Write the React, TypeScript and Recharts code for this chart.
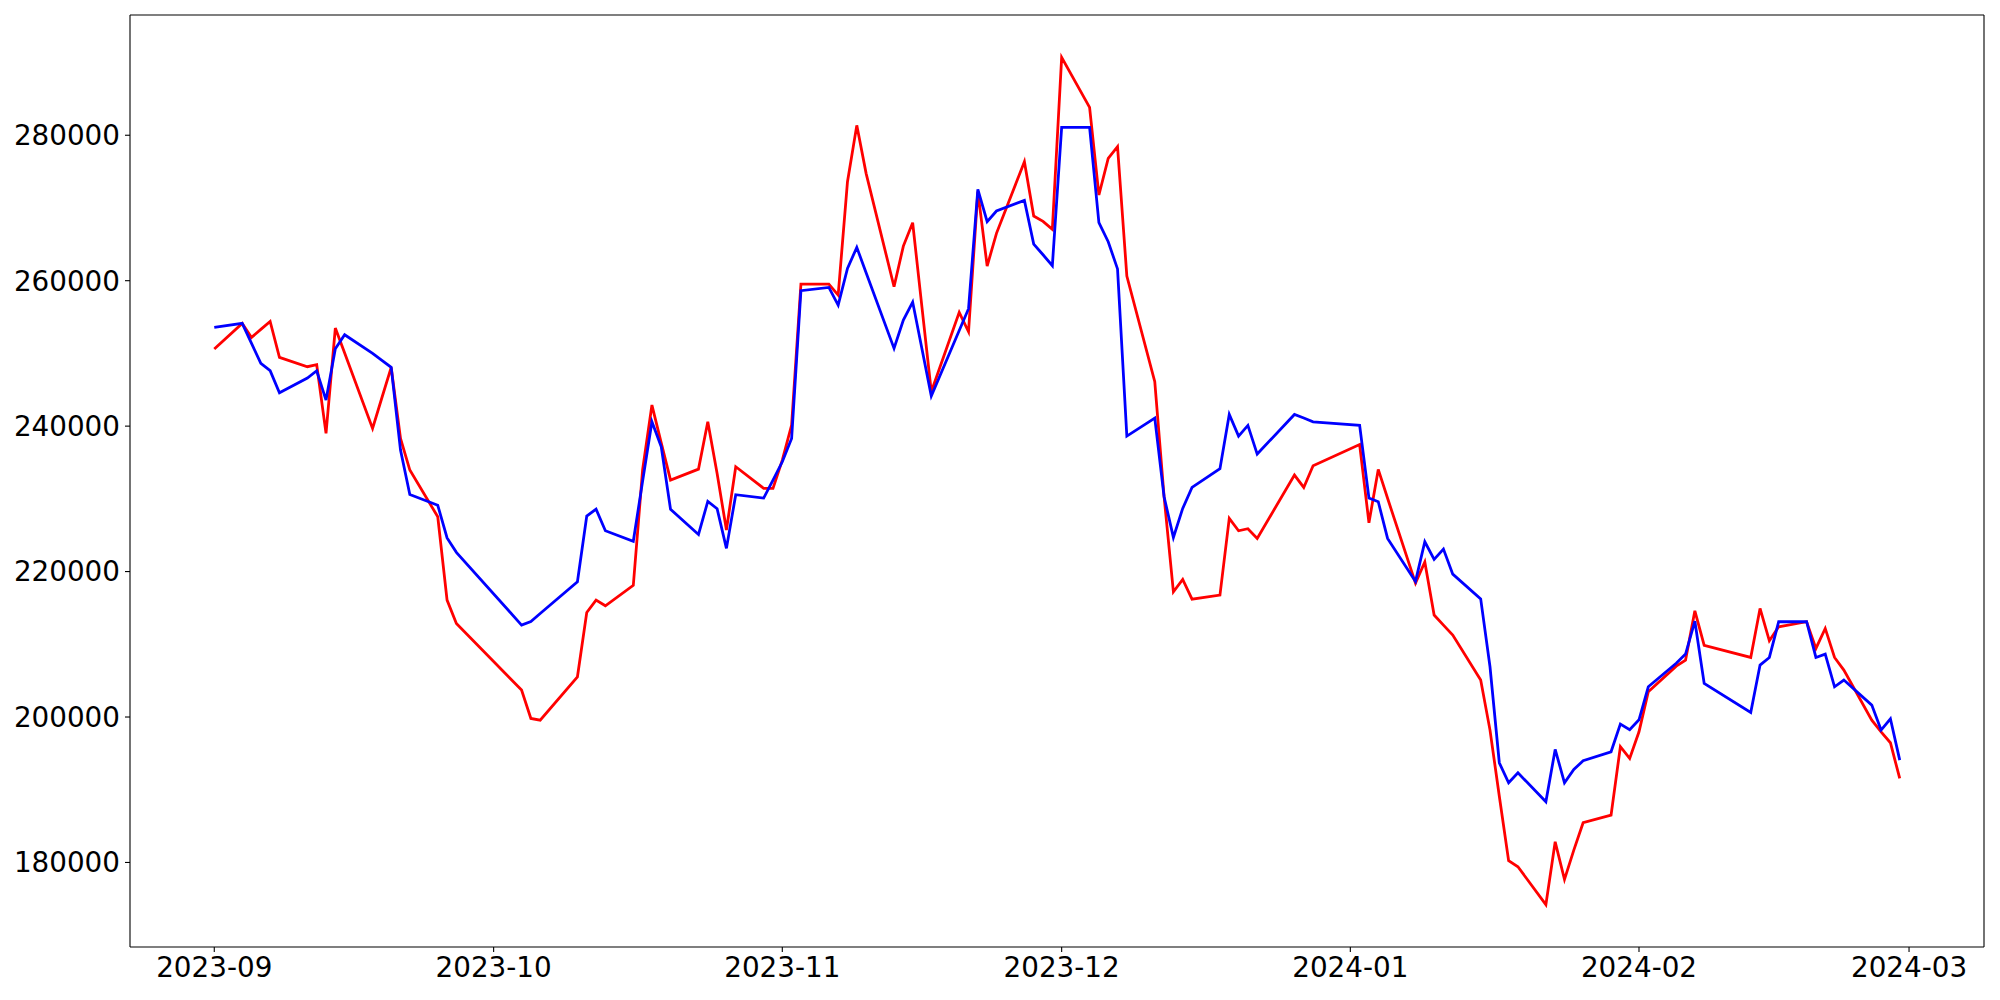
import React from "react";
import { LineChart, Line, XAxis, YAxis, ReferenceLine } from "recharts";

// trading dates
const dates = [
    "2023-09-01", "2023-09-04", "2023-09-05", "2023-09-06", "2023-09-07", "2023-09-08",
    "2023-09-11", "2023-09-12", "2023-09-13", "2023-09-14", "2023-09-15",
    "2023-09-18", "2023-09-19", "2023-09-20", "2023-09-21", "2023-09-22",
    "2023-09-25", "2023-09-26", "2023-09-27",
    "2023-10-04", "2023-10-05", "2023-10-06",
    "2023-10-10", "2023-10-11", "2023-10-12", "2023-10-13",
    "2023-10-16", "2023-10-17", "2023-10-18", "2023-10-19", "2023-10-20",
    "2023-10-23", "2023-10-24", "2023-10-25", "2023-10-26", "2023-10-27",
    "2023-10-30", "2023-10-31", "2023-11-01", "2023-11-02", "2023-11-03",
    "2023-11-06", "2023-11-07", "2023-11-08", "2023-11-09", "2023-11-10",
    "2023-11-13", "2023-11-14", "2023-11-15", "2023-11-16", "2023-11-17",
    "2023-11-20", "2023-11-21", "2023-11-22", "2023-11-23", "2023-11-24",
    "2023-11-27", "2023-11-28", "2023-11-29", "2023-11-30", "2023-12-01",
    "2023-12-04", "2023-12-05", "2023-12-06", "2023-12-07", "2023-12-08",
    "2023-12-11", "2023-12-12", "2023-12-13", "2023-12-14", "2023-12-15",
    "2023-12-18", "2023-12-19", "2023-12-20", "2023-12-21", "2023-12-22",
    "2023-12-26", "2023-12-27", "2023-12-28",
    "2024-01-02", "2024-01-03", "2024-01-04", "2024-01-05",
    "2024-01-08", "2024-01-09", "2024-01-10", "2024-01-11", "2024-01-12",
    "2024-01-15", "2024-01-16", "2024-01-17", "2024-01-18", "2024-01-19",
    "2024-01-22", "2024-01-23", "2024-01-24", "2024-01-25", "2024-01-26",
    "2024-01-29", "2024-01-30", "2024-01-31", "2024-02-01", "2024-02-02",
    "2024-02-05", "2024-02-06", "2024-02-07", "2024-02-08",
    "2024-02-13", "2024-02-14", "2024-02-15", "2024-02-16",
    "2024-02-19", "2024-02-20", "2024-02-21", "2024-02-22", "2024-02-23",
    "2024-02-26", "2024-02-27", "2024-02-28", "2024-02-29",
];

const redValues = [
    250600, 254130, 252200, 253300, 254400, 249450,
    248170, 248440, 239000, 253490, 250050,
    239690, 243900, 248080, 238310, 233960,
    227540, 216080, 212870,
    203700, 199800, 199570,
    205530, 214380, 216080, 215300,
    218120, 234000, 242900, 237700, 232580,
    234090, 240600, 233500, 225710, 234420,
    231440, 231440, 235330, 240150, 259540,
    259540, 258020, 273610, 281360, 274760,
    259170, 264760, 267970, 256330, 244730,
    255640, 252980, 272240, 262010, 266510,
    276360, 268890, 268160, 267060, 290710,
    283830, 271780, 276820, 278420, 260640,
    246110, 230300, 217220, 218920, 216210,
    216770, 227310, 225610, 225890, 224560,
    233270, 231570, 234550,
    237460, 226710, 234050, 230080,
    218420, 221330, 214020, 212640, 211270,
    205080, 198200, 189100, 180230, 179410,
    174200, 182840, 177660, 181700, 185460,
    186510, 195910, 194300, 197970, 203470,
    207000, 207830, 214610, 209840,
    208190, 214930, 210480, 212410,
    213100, 209430, 212180, 208190, 206450,
    199570, 197970, 196460, 191550,
];

const blueValues = [
    253580, 254130, 251380, 248630, 247620, 244590,
    246610, 247620, 243580, 250640, 252570,
    250000, 249040, 248080, 236710, 230600,
    229120, 224620, 222650,
    212640, 213140, 214240,
    218600, 227630, 228590, 225610,
    224170, 232440, 240600, 237170, 228550,
    225110, 229650, 228640, 223190, 230570,
    230110, 232580, 235100, 238300, 258620,
    259080, 256650, 261690, 264580, 261100,
    250690, 254590, 257060, 250600, 244140,
    253140, 256150, 272560, 268110, 269580,
    271040, 265040, 263570, 262060, 281080,
    281080, 268000, 265360, 261620, 238630,
    241110, 230290, 224700, 228690, 231570,
    234140, 241610, 238630, 240100, 236160,
    241610, 241110, 240600,
    240120, 230100, 229600, 224560,
    218650, 224100, 221670, 223100, 219650,
    216240, 206910, 193710, 190960, 192330,
    188340, 195540, 190960, 192790, 193980,
    195220, 199020, 198250, 199620, 204160,
    207400, 208650, 213170, 204620,
    200630, 207140, 208190, 213100,
    213100, 208190, 208650, 204160, 205080,
    201640, 198200, 199760, 194070,
];

const monthTicks = ["2023-09-01", "2023-10-01", "2023-11-01", "2023-12-01", "2024-01-01", "2024-02-01", "2024-03-01"];
const monthLabels = ["2023-09", "2023-10", "2023-11", "2023-12", "2024-01", "2024-02", "2024-03"];
const yTicks = [180000, 200000, 220000, 240000, 260000, 280000];

const dayOf = (s: string) => {
    const [y, m, d] = s.split("-").map(Number);
    return (Date.UTC(y, m - 1, d) - Date.UTC(2023, 8, 1)) / 86400000;
};

const rows = dates.map((d, i) => ({ t: dayOf(d), red: redValues[i], blue: blueValues[i] }));

// matplotlib style 5% margins
const xFirst = dayOf(dates[0]);
const xLast = dayOf(dates[dates.length - 1]);
const xPad = (xLast - xFirst) * 0.05;
const xDomain = [xFirst - xPad, xLast + xPad];

const allY = [...redValues, ...blueValues];
const yLo = Math.min(...allY);
const yHi = Math.max(...allY);
const yPad = (yHi - yLo) * 0.05;
const yDomain = [yLo - yPad, yHi + yPad];

const xTickVals = monthTicks.map(dayOf);
const labelFor = (v: number) => monthLabels[xTickVals.indexOf(v)] ?? "";

const tickStyle = { fontSize: 27.8, fill: "#000", fontFamily: "DejaVu Sans" };
const axisStroke = { stroke: "#000", strokeWidth: 1.1 };

export default function App() {
    return (
        <div style={{ position: "absolute", left: 0, top: 0, background: "#fff" }}>
            <LineChart
                width={2000}
                height={1000}
                data={rows}
                margin={{ top: 15, right: 16, bottom: 0, left: 0 }}
            >
                <XAxis
                    dataKey="t"
                    type="number"
                    domain={xDomain}
                    allowDataOverflow
                    ticks={xTickVals}
                    interval={0}
                    tickFormatter={labelFor}
                    tick={tickStyle}
                    tickSize={5}
                    tickMargin={5}
                    axisLine={axisStroke}
                    tickLine={axisStroke}
                    height={53}
                />
                <YAxis
                    type="number"
                    domain={yDomain}
                    allowDataOverflow
                    ticks={yTicks}
                    interval={0}
                    tick={tickStyle}
                    tickSize={5}
                    tickMargin={5}
                    axisLine={axisStroke}
                    tickLine={axisStroke}
                    width={130}
                />
                <ReferenceLine y={yDomain[1]} stroke="#000" strokeWidth={1.1} />
                <ReferenceLine x={xDomain[1]} stroke="#000" strokeWidth={1.1} />
                <Line
                    type="linear"
                    dataKey="red"
                    stroke="#ff0000"
                    strokeWidth={2.78}
                    dot={false}
                    isAnimationActive={false}
                />
                <Line
                    type="linear"
                    dataKey="blue"
                    stroke="#0000ff"
                    strokeWidth={2.78}
                    dot={false}
                    isAnimationActive={false}
                />
            </LineChart>
        </div>
    );
}
